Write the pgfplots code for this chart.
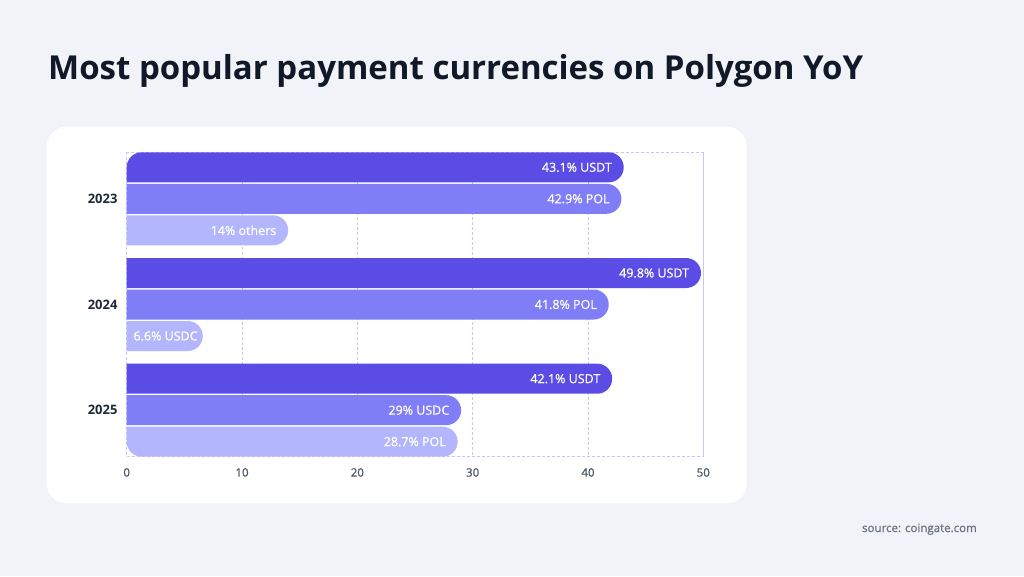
\documentclass[border=0pt]{standalone}
\usepackage{fontspec}
\setmainfont{Open Sans}
\newfontfamily\medfont[FakeBold=0.9]{Open Sans}
\usepackage{pgfplots}
\usepackage{pgfplotstable}
\pgfplotsset{compat=1.18}
\definecolor{bgc}{HTML}{F2F3F8}
\definecolor{cA}{HTML}{5B4CE6}
\definecolor{cB}{HTML}{807EF6}
\definecolor{cC}{HTML}{B3B6FC}
\definecolor{gridc}{HTML}{C6C7F4}
\definecolor{titlec}{HTML}{111827}
\definecolor{yearc}{HTML}{1F2937}
\definecolor{tickc}{HTML}{4B5563}
\definecolor{srcc}{HTML}{6B7280}

\pgfplotstableread[col sep=comma, row sep=\\]{
x,y,lab\\
43.1,167.3,43.1\% USDT\\
42.9,198.8,42.9\% POL\\
14,230.3,14\% others\\
49.8,273.0,49.8\% USDT\\
41.8,304.5,41.8\% POL\\
42.1,378.7,42.1\% USDT\\
29,410.2,29\% USDC\\
28.7,441.7,28.7\% POL\\
}\labels
\pgfplotstableread[col sep=comma, row sep=\\]{
x,y,lab\\
6.6,336.0,6.6\% USDC\\
}\labelsmall

\begin{document}
\begin{tikzpicture}
\fill[bgc] (0,0) rectangle (1024pt,576pt);
\path[use as bounding box] (0,0) rectangle (1024pt,576pt);
\fill[white, rounded corners=20pt] (46.7pt,72.7pt) rectangle (746.7pt,449.3pt);
\node[anchor=base west, inner sep=0pt, font=\bfseries\fontsize{33}{40}\selectfont, text=titlec] at (48pt,496pt) {Most popular payment currencies on Polygon YoY};
\node[anchor=base east, inner sep=0pt, font=\medfont\fontsize{11.5}{13}\selectfont, text=srcc] at (977pt,44pt) {source: coingate.com};
\begin{axis}[
  at={(126.7pt,119.3pt)}, anchor=south west,
  scale only axis, width=576.6pt, height=304.4pt,
  xmin=0, xmax=50, ymin=152.3, ymax=456.7, y dir=reverse,
  xtick={0,10,20,30,40,50},
  ytick={198.8,304.5,410.2}, yticklabels={2023,2024,2025},
  major tick length=0pt,
  xmajorgrids,
  grid style={draw=gridc, dash pattern=on 2.5pt off 2.5pt, line width=0.9pt},
  axis line style={draw=gridc, dash pattern=on 2.5pt off 2.5pt, line width=0.9pt},
  /pgf/number format/assume math mode=true,
  xticklabel style={font=\medfont\fontsize{11.5}{13}\selectfont, text=tickc, yshift=-8pt},
  yticklabel style={font=\bfseries\fontsize{13}{15}\selectfont, text=yearc, xshift=-5.7pt},
  clip mode=individual,
]
% 2023
\addplot[fill=cA, draw=none, rounded corners=15pt] coordinates {(-3,152.3) (43.1,152.3) (43.1,182.3) (-3,182.3)} -- cycle;
\addplot[fill=cB, draw=none, rounded corners=15pt] coordinates {(-3,183.8) (42.9,183.8) (42.9,213.8) (-3,213.8)} -- cycle;
\addplot[fill=cC, draw=none, rounded corners=15pt] coordinates {(-3,215.3) (14,215.3) (14,245.3) (-3,245.3)} -- cycle;
% 2024
\addplot[fill=cA, draw=none, rounded corners=15pt] coordinates {(-3,258.0) (49.8,258.0) (49.8,288.0) (-3,288.0)} -- cycle;
\addplot[fill=cB, draw=none, rounded corners=15pt] coordinates {(-3,289.5) (41.8,289.5) (41.8,319.5) (-3,319.5)} -- cycle;
\addplot[fill=cC, draw=none, rounded corners=15pt] coordinates {(-3,321.0) (6.6,321.0) (6.6,351.0) (-3,351.0)} -- cycle;
% 2025
\addplot[fill=cA, draw=none, rounded corners=15pt] coordinates {(-3,363.7) (42.1,363.7) (42.1,393.7) (-3,393.7)} -- cycle;
\addplot[fill=cB, draw=none, rounded corners=15pt] coordinates {(-3,395.2) (29,395.2) (29,425.2) (-3,425.2)} -- cycle;
\addplot[fill=cC, draw=none, rounded corners=15pt] coordinates {(-3,426.7) (28.7,426.7) (28.7,456.7) (-3,456.7)} -- cycle;
% labels
\addplot[draw=none, mark=none, nodes near coords, point meta=explicit symbolic,
  every node near coord/.append style={anchor=east, inner sep=0pt, xshift=-11.7pt, text=white, font=\medfont\fontsize{12.5}{14}\selectfont}]
  table[x=x, y=y, meta=lab] {\labels};
\addplot[draw=none, mark=none, nodes near coords, point meta=explicit symbolic,
  every node near coord/.append style={anchor=east, inner sep=0pt, xshift=-5pt, text=white, font=\medfont\fontsize{12.5}{14}\selectfont}]
  table[x=x, y=y, meta=lab] {\labelsmall};
\end{axis}
\end{tikzpicture}
\end{document}
